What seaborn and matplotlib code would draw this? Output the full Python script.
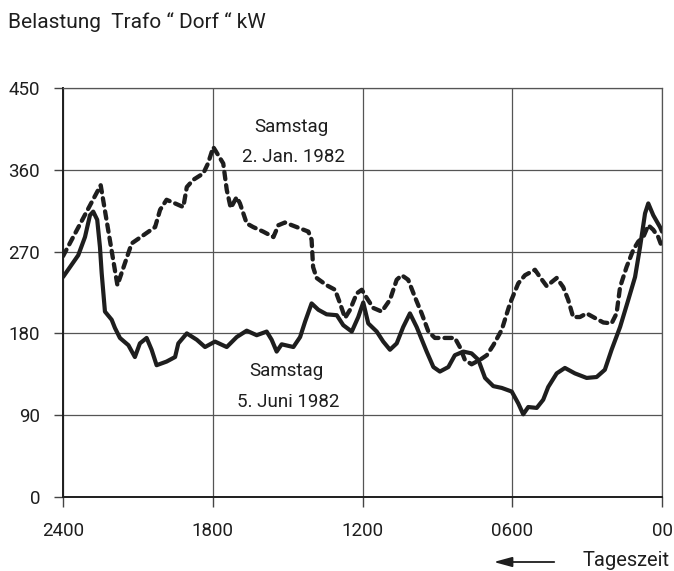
import numpy as np
import pandas as pd
import matplotlib
matplotlib.use("Agg")
import matplotlib.pyplot as plt
import seaborn as sns

# time of day in hours (24 = left edge, 0 = right edge), load in kW
jan_hours = [24.0, 22.49, 21.82, 21.25, 20.78, 20.31, 20.11, 19.85, 19.51, 19.18,
             19.04, 18.78, 18.38, 18.19, 17.98, 17.58, 17.44, 17.28, 17.04, 16.91,
             16.64, 16.38, 15.98, 15.57, 15.37, 15.11, 14.64, 14.17, 14.04, 13.98,
             13.84, 13.44, 13.1, 12.9, 12.7, 12.5, 12.23, 12.03, 11.83, 11.57,
             11.23, 10.9, 10.63, 10.43, 10.17, 9.9, 9.63, 9.36, 9.1, 8.63,
             8.3, 8.1, 7.9, 7.63, 7.29, 7.02, 6.76, 6.42, 6.09, 5.76,
             5.49, 5.09, 4.89, 4.62, 4.22, 3.96, 3.76, 3.56, 3.29, 3.02,
             2.69, 2.35, 2.02, 1.82, 1.68, 1.42, 1.15, 0.95, 0.75, 0.55,
             0.35, 0.15, 0.0]
jan_kw = [265, 343, 233, 279, 288, 297, 316, 327, 323, 319,
          341, 349, 356, 367, 385, 367, 338, 318, 330, 323,
          301, 297, 292, 286, 299, 302, 297, 292, 283, 253,
          241, 233, 228, 213, 197, 206, 224, 228, 219, 208,
          204, 217, 239, 244, 239, 220, 202, 182, 175, 175,
          175, 165, 151, 146, 151, 156, 167, 184, 213, 235,
          244, 250, 242, 232, 241, 231, 217, 198, 198, 202,
          197, 192, 191, 202, 231, 253, 272, 281, 286, 299,
          294, 286, 275]

jun_hours = [24.0, 23.72, 23.39, 23.12, 22.92, 22.79, 22.63, 22.52, 22.45, 22.32,
             22.05, 21.92, 21.72, 21.38, 21.12, 20.92, 20.65, 20.45, 20.25, 19.85,
             19.51, 19.38, 19.04, 18.64, 18.31, 17.91, 17.44, 17.04, 16.64, 16.24,
             15.84, 15.64, 15.44, 15.24, 14.77, 14.5, 14.3, 14.04, 13.77, 13.44,
             13.03, 12.77, 12.43, 12.17, 11.97, 11.77, 11.43, 11.17, 10.9, 10.63,
             10.37, 10.1, 9.83, 9.43, 9.16, 8.9, 8.56, 8.3, 7.96, 7.63,
             7.36, 7.09, 6.76, 6.42, 6.02, 5.76, 5.56, 5.36, 5.02, 4.76,
             4.56, 4.22, 3.89, 3.49, 3.02, 2.62, 2.29, 2.02, 1.68, 1.35,
             1.08, 0.88, 0.68, 0.55, 0.35, 0.08, 0.0]
jun_kw = [242, 253, 266, 286, 310, 314, 305, 275, 246, 204,
          195, 186, 175, 167, 154, 169, 175, 162, 145, 149,
          154, 169, 180, 173, 165, 171, 165, 176, 183, 178,
          182, 173, 160, 168, 165, 176, 193, 213, 206, 201,
          200, 189, 182, 198, 214, 191, 182, 171, 162, 169,
          187, 202, 187, 160, 143, 138, 143, 156, 160, 158,
          151, 131, 122, 120, 116, 103, 91, 99, 98, 107,
          121, 136, 142, 136, 131, 132, 140, 162, 187, 217,
          242, 275, 312, 323, 310, 297, 292]

x_ticks = [24, 18, 12, 6, 0]
x_labels = ["2400", "1800", "1200", "0600", "00"]
y_ticks = [0, 90, 180, 270, 360, 450]

sns.set_style("white")
plt.rcParams["font.family"] = ["Roboto", "DejaVu Sans"]

ink = "#1e1e1e"
fig = plt.figure(figsize=(6.74, 5.71), dpi=100)
ax = fig.add_axes([0.0935, 0.1296, 0.8887, 0.7163])

df_jan = pd.DataFrame({"h": jan_hours, "kw": jan_kw})
df_jun = pd.DataFrame({"h": jun_hours, "kw": jun_kw})

sns.lineplot(data=df_jan, x="h", y="kw", ax=ax, color=ink, lw=3.1,
             sort=False, estimator=None, zorder=3)
jan_line = ax.lines[-1]
jan_line.set_dashes([1.7, 1.4])
jan_line.set_dash_capstyle("round")
jan_line.set_dash_joinstyle("round")
sns.lineplot(data=df_jun, x="h", y="kw", ax=ax, color=ink, lw=3.0,
             sort=False, estimator=None, zorder=4)
ax.lines[-1].set_solid_joinstyle("round")
ax.lines[-1].set_solid_capstyle("round")

ax.set_xlim(24, 0)
ax.set_ylim(0, 450)
ax.set_xticks(x_ticks)
ax.set_xticklabels(x_labels)
ax.set_yticks(y_ticks)
ax.set_xlabel("")
ax.set_ylabel("")

ax.grid(True, color="#555555", lw=0.9)
ax.set_axisbelow(True)
for side in ["top", "right"]:
    ax.spines[side].set_color("#555555")
    ax.spines[side].set_linewidth(0.9)
for side in ["left", "bottom"]:
    ax.spines[side].set_color(ink)
    ax.spines[side].set_linewidth(1.4)

ax.tick_params(axis="y", direction="out", length=6.5, width=1.0, color="#444444",
               pad=10, labelsize=13.5, labelcolor=ink, left=True)
ax.tick_params(axis="x", direction="out", length=7, width=1.0, color="#444444",
               pad=11, labelsize=13.5, labelcolor=ink, bottom=True)

tfont = dict(fontsize=13.5, color=ink, ha="center", va="center")
ax.text(14.85, 407, "Samstag", **tfont)
ax.text(14.75, 374, "2. Jan. 1982", **tfont)
ax.text(15.05, 139, "Samstag", **tfont)
ax.text(14.98, 104, "5. Juni 1982", **tfont)

fig.text(8 / 674, 1 - 22 / 571, "Belastung  Trafo \u201c Dorf \u201c kW",
         fontsize=15, color=ink, ha="left", va="center")

fig.text(583 / 674, 1 - 561 / 571, "Tageszeit", fontsize=14.5, color=ink,
         ha="left", va="center")
fig.patches.append(matplotlib.patches.FancyArrowPatch(
    (557 / 674, 1 - 562 / 571), (491 / 674, 1 - 562 / 571),
    transform=fig.transFigure, arrowstyle="-|>,head_length=11,head_width=3",
    color=ink, lw=1.3, mutation_scale=1))

fig.savefig("out.png", dpi=100, facecolor="white")
